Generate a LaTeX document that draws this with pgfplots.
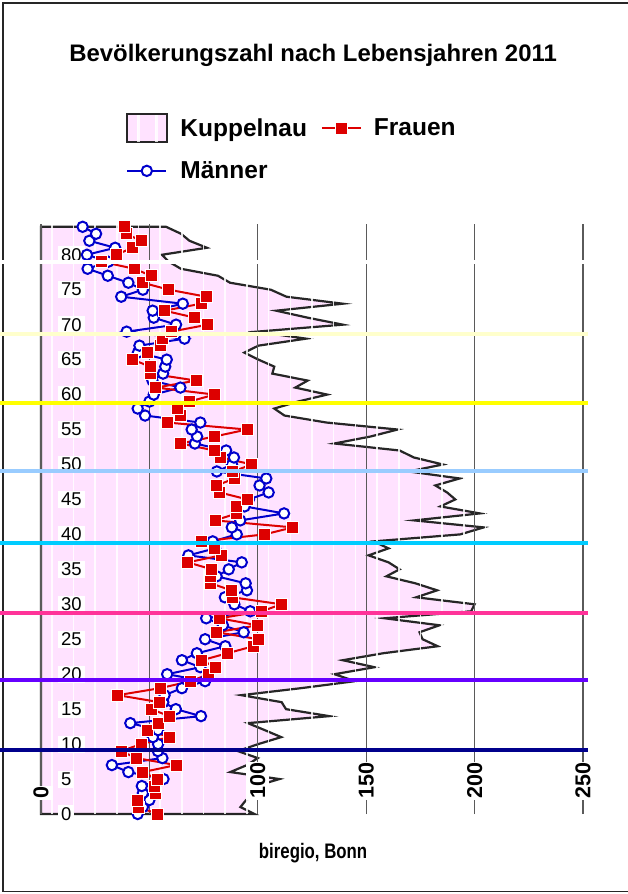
\documentclass[border=0pt]{standalone}
\usepackage{fontspec}
\setmainfont{Liberation Sans}
\newfontfamily\condfont[FakeStretch=0.8]{Liberation Sans}
\usepackage{pgfplots}
\usepackage{pgfplotstable}
\pgfplotsset{compat=1.18}
\definecolor{kfill}{RGB}{255,226,255}
\definecolor{fred}{RGB}{221,0,0}
\definecolor{mblue}{RGB}{0,0,204}
\definecolor{lnavy}{RGB}{0,0,140}
\definecolor{lviolet}{RGB}{102,0,255}
\definecolor{lpink}{RGB}{255,51,153}
\definecolor{lcyan}{RGB}{0,204,255}
\definecolor{llblue}{RGB}{153,204,255}
\definecolor{lyellow}{RGB}{255,255,0}
\definecolor{lcream}{RGB}{255,255,204}
\definecolor{gridgray}{RGB}{90,90,90}

\pgfplotstableread{
age K F M
0 98.5 53.8 44.6
1 92 45 47
2 94.6 44.6 50
3 100 53 47
4 99 52.5 46.5
5 110 53.5 56.5
6 87.3 47 40.3
7 95 62.3 32.7
8 100 44 56
9 90.8 36.9 53.9
10 100.2 46.2 54
11 110.8 59.2 51.6
12 103.2 49.2 54
13 95.4 54.2 41.2
14 133 59.2 73.8
15 113 50.8 62.2
16 111 54.6 56.4
17 92.4 35.4 57
18 119.9 54.9 65
19 144.8 69.1 75.7
20 135.4 77.2 58.2
21 153.8 80.3 73.5
22 139.2 74.2 65
23 157.9 86 71.9
24 183 98 85
25 176 100.3 75.7
26 174.6 81.1 93.5
27 183.8 99.9 83.9
28 158.5 82.3 76.2
29 198.4 101.9 96.5
30 200 110.8 89.2
31 173.1 88.3 84.8
32 182.7 87.7 95
33 172.7 78.3 94.4
34 159.3 78.3 81
35 165.4 78.8 86.6
36 160.3 67.7 92.6
37 151.1 83.1 68
38 160.3 80 80.3
39 153.4 74.2 79.2
40 193.4 103.1 90.3
41 204.2 116.2 88
42 172.2 80.3 91.9
43 202.4 90.3 112.1
44 184.2 90.3 93.9
45 191.1 95.2 95.9
46 187.3 82.3 105
47 181.9 81.1 100.8
48 193.1 89.2 103.9
49 169.6 88.5 81.1
50 185.4 97.3 88.1
51 172 83 89
52 165.4 80 85.4
53 135.3 64.3 71
54 152 80 72
55 164.5 95 69.5
56 131.7 58.2 73.5
57 112.3 64.3 48
58 107.6 63 44.6
59 118.5 68.5 50
60 132 80 52
61 117.3 53 64.3
62 123 71.6 51.4
63 106.7 50.4 56.3
64 107.6 50.3 57.3
65 100.3 42.3 58
66 93.8 49.1 44.7
67 100.3 54.9 45.4
68 122.3 56 66.2
69 99.5 60 39.5
70 139.2 76.9 62.3
71 123 71 52
72 108.5 57 51.5
73 139.2 73.8 65.4
74 113.2 76.2 37
75 106 59 47
76 87.2 46.9 40.3
77 81.6 50.8 30.8
78 64.5 43 21.5
79 59 28 31
80 55.8 34.6 21.2
81 76.5 42.3 34.2
82 68.5 46.2 22.3
83 64.6 39.2 25.4
84 57.7 38.5 19.2
}\data

\begin{document}
\begin{tikzpicture}
\begin{axis}[
  set layers,
  at={(41pt,-814pt)}, anchor=south west,
  scale only axis, width=542pt, height=590pt,
  xmin=0, xmax=250, ymin=0, ymax=84.4,
  clip=false,
  axis line style={draw=none},
  major tick length=0pt, minor tick length=0pt,
  /pgf/number format/assume math mode=true,
  xtick={0,100,150,200,250},
  extra x ticks={50},
  extra x tick labels={},
  extra x tick style={grid=major, xticklabel style={fill=none, draw=none}},
  minor xtick={5,15,...,245},
  ytick={0,5,...,80},
  xmajorgrids, xminorgrids,
  major grid style={gridgray, line width=1.2pt},
  minor grid style={white, opacity=0.85, line width=1.6pt},
  xticklabel style={yshift=14pt, rotate=90, anchor=west, fill=white,
    inner xsep=1pt, inner ysep=4pt, font=\bfseries\fontsize{21.5}{21.5}\selectfont},
  yticklabel style={anchor=west, xshift=17pt, fill=white, inner xsep=3pt,
    inner ysep=2pt, font=\fontsize{18.5}{18.5}\selectfont},
  title={Bevölkerungszahl nach Lebensjahren 2011},
  title style={at={(0.502,1.266)}, anchor=base, font=\bfseries\fontsize{23.9}{28}\selectfont},
  xlabel={biregio, Bonn},
  xlabel style={at={(0.502,-0.0746)}, anchor=base, font=\condfont\bfseries\fontsize{21}{24}\selectfont},
  legend columns=2,
  legend cell align=left,
  legend style={at={(0.1513,1.192)}, anchor=north west, draw=none, fill=none,
    font=\bfseries\fontsize{24.5}{27}\selectfont, row sep=16.5pt,
    /tikz/every even column/.append style={column sep=2pt},
    nodes={inner xsep=12pt}},
]
% Kuppelnau area
\addplot[on layer=axis background, draw=black!85, line width=2.2pt, fill=kfill, forget plot]
  table[x=K, y=age]{\data} -- (axis cs:0,84) -- (axis cs:0,0) -- cycle;
% Maenner
\addplot[mblue, line width=2pt, mark=*, mark size=5.2pt,
  mark options={fill=white, draw=mblue, line width=2pt}, forget plot]
  table[x=M, y=age]{\data};
% Frauen
\addplot[fred, line width=2pt, mark=square*, mark size=6pt,
  mark options={fill=fred, draw=white, line width=0.9pt}, forget plot]
  table[x=F, y=age]{\data};
% decade lines
\addplot[on layer=axis foreground, lnavy, line width=4pt, forget plot] coordinates {(-18.9,9.16) (252.3,9.16)};
\addplot[on layer=axis foreground, lviolet, line width=4pt, forget plot] coordinates {(-18.9,19.17) (252.3,19.17)};
\addplot[on layer=axis foreground, lpink, line width=4pt, forget plot] coordinates {(-18.9,28.8) (252.3,28.8)};
\addplot[on layer=axis foreground, lcyan, line width=4pt, forget plot] coordinates {(-18.9,38.8) (252.3,38.8)};
\addplot[on layer=axis foreground, llblue, line width=4pt, forget plot] coordinates {(-18.9,49.1) (252.3,49.1)};
\addplot[on layer=axis foreground, lyellow, line width=4pt, forget plot] coordinates {(-18.9,58.8) (252.3,58.8)};
\addplot[on layer=axis foreground, lcream, line width=4pt, forget plot] coordinates {(-18.9,68.7) (252.3,68.7)};
\addplot[on layer=axis foreground, white, line width=3.5pt, forget plot] coordinates {(-18.9,79.0) (252.3,79.0)};
% legend
\addlegendimage{legend image code/.code={
  \draw[black!85, line width=2.2pt, fill=kfill] (0pt,-14pt) rectangle (40pt,14pt);
  \fill[white, opacity=0.8] (10pt,-13pt) rectangle (12pt,13pt);
  \fill[white, opacity=0.8] (28pt,-13pt) rectangle (30pt,13pt);}}
\addlegendentry{Kuppelnau}
\addlegendimage{legend image code/.code={
  \draw[fred, line width=2pt] (0pt,0pt) -- (39pt,0pt);
  \draw[fred, mark=square*, mark size=6pt, mark options={fill=fred, draw=white, line width=0.9pt}] plot coordinates {(19.5pt,0pt)};}}
\addlegendentry{Frauen}
\addlegendimage{legend image code/.code={
  \draw[mblue, line width=2pt] (0pt,0pt) -- (39pt,0pt);
  \draw[mblue, mark=*, mark size=5.2pt, mark options={fill=white, draw=mblue, line width=2pt}] plot coordinates {(19.5pt,0pt)};}}
\addlegendentry{Männer}
\end{axis}
\pgfresetboundingbox
\path[use as bounding box] (0pt,0pt) rectangle (627pt,-894pt);
\draw[black!85, line width=1.5pt] (640pt,-3pt) -- (3pt,-3pt) -- (3pt,-891.5pt) -- (640pt,-891.5pt);
\end{tikzpicture}
\end{document}
